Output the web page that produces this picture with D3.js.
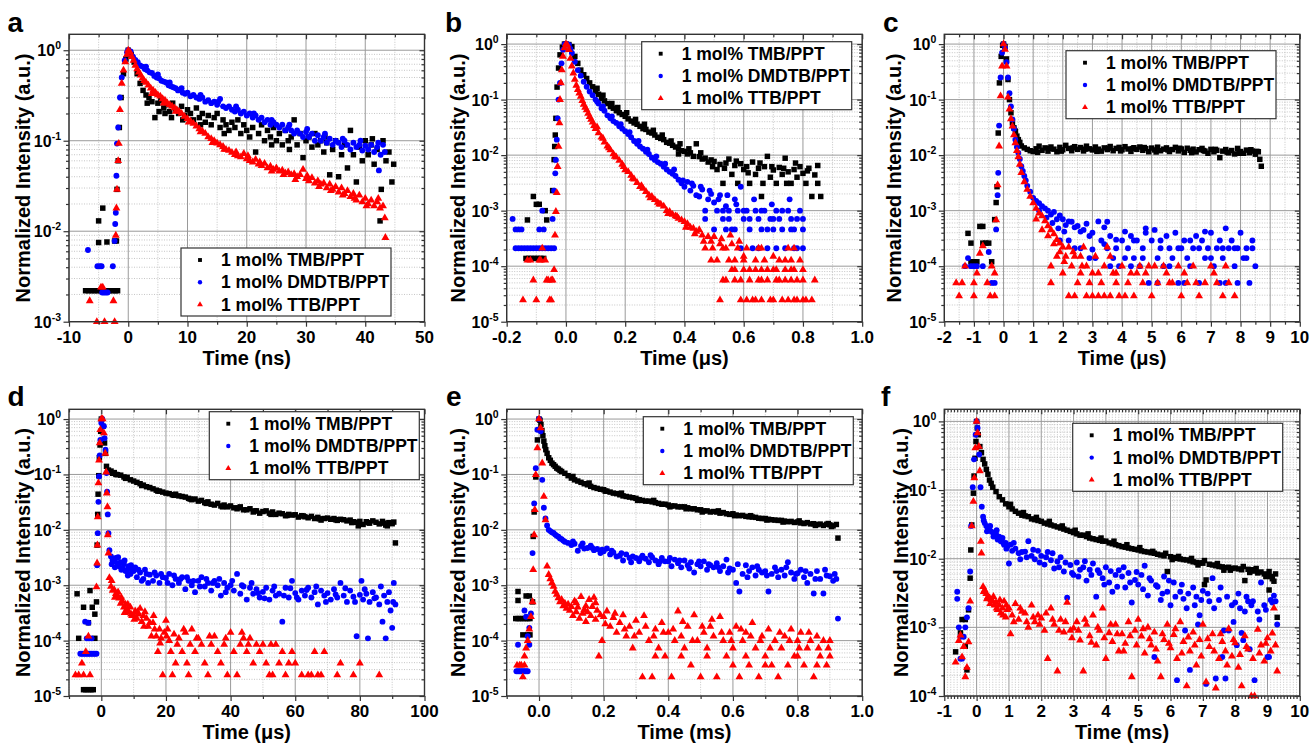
<!DOCTYPE html>
<html>
<head>
<meta charset="utf-8">
<script src="https://cdn.jsdelivr.net/npm/d3@7"></script>
<style>
body { margin: 0; background: #fff; }
svg text { font-family: 'Liberation Sans', Arial, sans-serif; font-weight: bold; fill: #000; }
</style>
</head>
<body>
<div id="chart"></div>
<script>
const seriesNames = ['1 mol% TMB/PPT', '1 mol% DMDTB/PPT', '1 mol% TTB/PPT'];
const seriesColors = ['#000000', '#0000ff', '#ff0000'];

// ---- panel a (ns) ----
const aTMB = [
  [-7.2,0.0022],[-6.7,0.0022],[-6.2,0.0022],[-5.7,0.0022],[-5.2,0.0022],[-4.7,0.0022],[-4.2,0.0022],[-3.7,0.0022],[-3.2,0.0022],[-2.7,0.0022],[-2.2,0.0022],[-1.8,0.0022],
  [-5.0,0.0075],[-3.6,0.0076],[-5.0,0.013],[-4.3,0.018],[-2.3,0.0078],[-2.0,0.0078],[-1.9,0.029],[-1.7,0.06],[-1.5,0.14],[-1.2,0.3],[-0.8,0.55],[-0.4,0.8],[0,1.0],
  [0.5,0.9],[1,0.74],[1.5,0.55],[2,0.43],[2.5,0.36],[3,0.32],[3.5,0.3],[4,0.27],[4.5,0.18],[5,0.26],[5.5,0.28],[6,0.23],[6.5,0.25],[7,0.21],[7.5,0.26],[8,0.22],[8.5,0.2],[9,0.24],[9.5,0.19],[10,0.22],
  [10.5,0.2],[11,0.17],[11.5,0.23],[12,0.18],[12.5,0.2],[13,0.16],[13.5,0.19],[14,0.15],[14.5,0.18],[15,0.2],[15.5,0.14],[16,0.17],[16.5,0.15],[17,0.13],[17.5,0.16],[18,0.14],[18.5,0.17],[19,0.12],[19.5,0.15],[20,0.13],
  [20.5,0.11],[21,0.14],[21.5,0.075],[22,0.12],[22.5,0.15],[23,0.1],[23.5,0.13],[24,0.11],[24.5,0.14],[25,0.1],[25.5,0.12],[26,0.09],[26.5,0.13],[27,0.1],[27.5,0.11],[28,0.17],[28.5,0.09],[29,0.12],[29.5,0.065],[30,0.1],
  [30.5,0.11],[31,0.085],[31.5,0.12],[32,0.09],[32.5,0.1],[33,0.075],[33.5,0.095],[34,0.042],[34.5,0.08],[35,0.1],[35.5,0.04],[36,0.07],[36.5,0.09],[37,0.05],[37.5,0.13],[38,0.07],[38.5,0.035],[39,0.085],[39.5,0.06],[40,0.1],
  [40.5,0.07],[41,0.09],[41.5,0.055],[42,0.08],[42.5,0.013],[42.7,0.029],[43,0.1],[43.5,0.06],[44,0.075],[44.5,0.035],[44.8,0.055],
  [3.2,0.26],[5.2,0.21],[6.2,0.2],[7.3,0.18],[9.2,0.17],[12.2,0.15],[16.2,0.12],[24.2,0.09],[27.2,0.08],[33.2,0.11],[41.2,0.105]
];
const aDMDTB = [
  [-6.8,0.0062],[-5.2,0.0041],[-4.8,0.0041],[-4.5,0.0041],[-4.4,0.0021],[-4.1,0.0021],[-3.8,0.0021],[-3.5,0.0021],[-2.6,0.0041],[-2.3,0.0078],[-2.2,0.012],[-2.1,0.016],[-2.0,0.041],[-1.9,0.093],[-1.7,0.14],[-1.4,0.3],[-1.1,0.5],[-0.6,0.77],[-0.2,0.95],[0,1.0],
  [0.4,0.97],[0.8,0.85],[1.2,0.78],[1.6,0.74],[2.0,0.68],[2.4,0.66],[2.8,0.62],[3.2,0.6],[3.6,0.57],[4.0,0.56],[4.4,0.52],[4.8,0.5],[5.2,0.49],[5.6,0.46],[6.0,0.45],[6.4,0.44],[6.8,0.41],[7.2,0.4],[7.6,0.39],[8.0,0.38],
  [8.4,0.36],[8.8,0.37],[9.2,0.34],[9.6,0.33],[10,0.34],[10.5,0.31],[11,0.32],[11.5,0.3],[12,0.29],[12.5,0.3],[13,0.27],[13.5,0.28],[14,0.26],[14.5,0.27],[15,0.25],[15.5,0.29],[16,0.24],[16.5,0.23],[17,0.24],[17.5,0.22],
  [18,0.21],[18.5,0.22],[19,0.2],[19.5,0.21],[20,0.19],[20.5,0.2],[21,0.18],[21.5,0.19],[22,0.17],[22.5,0.18],[23,0.16],[23.5,0.17],[24,0.15],[24.5,0.16],[25,0.15],[25.5,0.14],[26,0.15],[26.5,0.13],[27,0.14],[27.5,0.13],
  [28,0.12],[28.5,0.13],[29,0.12],[29.5,0.11],[30,0.125],[30.5,0.11],[31,0.12],[31.5,0.1],[32,0.115],[32.5,0.1],[33,0.11],[33.5,0.095],[34,0.105],[34.5,0.09],[35,0.1],[35.5,0.095],[36,0.085],[36.5,0.1],[37,0.09],[37.5,0.08],
  [38,0.095],[38.5,0.085],[39,0.09],[39.5,0.078],[40,0.088],[40.5,0.08],[41,0.09],[41.5,0.075],[42,0.085],[42.3,0.047],[42.6,0.07],[43,0.09],[43.3,0.075],
  [3.0,0.66],[5.0,0.54],[7.0,0.44],[9.0,0.38],[12.2,0.32],[15.2,0.27],[18.2,0.24],[21.2,0.2],[24.2,0.17],[27.2,0.15],[30.2,0.135],[33.2,0.12],[36.2,0.105],[39.2,0.1],[42.2,0.095]
];
const aTTB = [
  [-6.5,0.0017],[-5.3,0.001],[-4.6,0.0024],[-4.3,0.0024],[-4.0,0.001],[-2.5,0.0017],[-2.3,0.001],[-2.1,0.009],[-2.0,0.018],[-1.9,0.029],[-1.7,0.06],[-1.6,0.093],[-1.4,0.22],[-1.1,0.43],[-0.8,0.6],[-0.5,0.74],[-0.2,0.9],[0,1.0],
  [0.3,0.95],[0.6,0.85],[0.9,0.77],[1.2,0.68],[1.5,0.62],[1.8,0.57],[2.1,0.53],[2.4,0.49],[2.7,0.46],[3.0,0.44],[3.4,0.41],[3.8,0.38],[4.2,0.36],[4.6,0.34],[5.0,0.32],[5.4,0.31],[5.8,0.29],[6.2,0.28],[6.6,0.26],[7.0,0.25],
  [7.4,0.24],[7.8,0.23],[8.2,0.22],[8.6,0.21],[9.0,0.2],[9.5,0.185],[10,0.175],[10.5,0.165],[11,0.155],[11.5,0.145],[12,0.135],[12.5,0.128],[13,0.12],[13.5,0.11],[14,0.105],[14.5,0.1],[15,0.094],[15.5,0.09],[16,0.086],[16.5,0.08],
  [17,0.078],[17.5,0.074],[18,0.07],[18.5,0.068],[19,0.066],[19.5,0.072],[20,0.063],[20.5,0.06],[21,0.058],[21.5,0.062],[22,0.055],[22.5,0.053],[23,0.056],[23.5,0.05],[24,0.052],[24.5,0.048],[25,0.05],[25.5,0.046],[26,0.047],[26.5,0.044],
  [27,0.045],[27.5,0.042],[28,0.043],[28.5,0.04],[29,0.042],[29.5,0.048],[30,0.038],[30.5,0.036],[31,0.039],[31.5,0.034],[32,0.036],[32.5,0.033],[33,0.034],[33.5,0.03],[34,0.033],[34.5,0.029],[35,0.031],[35.5,0.027],[36,0.03],[36.5,0.026],
  [37,0.028],[37.5,0.024],[38,0.026],[38.5,0.022],[39,0.025],[39.5,0.021],[40,0.023],[40.5,0.02],[41,0.022],[41.5,0.019],[42,0.021],[42.5,0.018],[43,0.019],[43.3,0.014],[43.4,0.0085],
  [4.0,0.33],[6.0,0.26],[8.0,0.21],[10.2,0.16],[12.2,0.125],[14.2,0.095],[16.2,0.08],[18.2,0.075],[20.2,0.068],[22.2,0.058],[24.2,0.046],[26.2,0.042],[28.2,0.037],[30.2,0.041],[32.2,0.031],[34.2,0.028],[36.2,0.025],[38.2,0.023],[40.2,0.019],[42.2,0.023]
];

// ---- panel b (us) ----
const bTMB = [
  [-0.135,0.000138],[-0.125,0.000138],[-0.115,0.000138],[-0.105,0.000138],[-0.095,0.000138],[-0.085,0.000138],[-0.075,0.000138],[-0.13,0.00068],[-0.11,0.0018],[-0.1,0.0013],[-0.09,0.0013],[-0.07,0.001],[-0.065,0.00068],
  [-0.045,0.0023],[-0.04,0.0083],[-0.038,0.0143],[-0.036,0.023],[-0.034,0.046],[-0.03,0.168],[-0.025,0.37],[-0.02,0.64],[-0.012,0.88],[-0.005,1.0],[0,1.0],
  [0.01,0.98],[0.02,0.9],[0.03,0.6],[0.04,0.45],[0.05,0.34],[0.06,0.28],[0.07,0.24],[0.08,0.2],[0.09,0.17],[0.1,0.14],[0.11,0.125],[0.12,0.105],[0.13,0.095],[0.14,0.085],[0.15,0.075],[0.16,0.07],[0.17,0.063],[0.18,0.058],[0.19,0.054],[0.2,0.05],
  [0.21,0.045],[0.22,0.041],[0.23,0.038],[0.24,0.036],[0.25,0.033],[0.26,0.03],[0.27,0.029],[0.28,0.026],[0.29,0.025],[0.3,0.023],[0.31,0.021],[0.32,0.02],[0.33,0.019],[0.34,0.017],[0.35,0.0164],[0.36,0.015],[0.37,0.014],[0.38,0.013],[0.39,0.012],[0.4,0.0117],
  [0.41,0.0105],[0.42,0.011],[0.43,0.0095],[0.44,0.016],[0.45,0.0094],[0.46,0.0085],[0.47,0.0088],[0.48,0.0075],[0.49,0.0082],[0.5,0.0077],[0.51,0.0055],[0.52,0.0068],[0.53,0.0031],[0.54,0.0072],[0.55,0.0085],[0.56,0.0045],[0.57,0.0065],[0.58,0.0031],[0.59,0.007],[0.6,0.0055],
  [0.61,0.0062],[0.62,0.0031],[0.63,0.0075],[0.64,0.0045],[0.65,0.0058],[0.66,0.0018],[0.67,0.0062],[0.68,0.0095],[0.69,0.004],[0.7,0.0054],[0.71,0.0031],[0.72,0.006],[0.73,0.0045],[0.74,0.0088],[0.75,0.005],[0.76,0.0031],[0.77,0.0055],[0.78,0.004],[0.79,0.0062],[0.8,0.0047],
  [0.81,0.0031],[0.82,0.0058],[0.83,0.0018],[0.84,0.0044],[0.85,0.0031],[0.85,0.0065],[0.86,0.0018],
  [0.105,0.16],[0.125,0.12],[0.155,0.085],[0.175,0.072],[0.205,0.058],[0.235,0.044],[0.265,0.036],[0.295,0.028],[0.325,0.023],[0.355,0.018],[0.385,0.016],[0.415,0.013],[0.38,0.0105],[0.455,0.011],[0.495,0.0062],[0.535,0.0058],[0.575,0.0078],[0.615,0.0048],[0.655,0.0072],[0.695,0.0062],[0.735,0.0058],[0.775,0.0072],[0.815,0.0052],[0.745,0.0031],[0.665,0.0031]
];
const bDMDTB = [
  [-0.18,0.00071],[-0.17,0.00046],[-0.16,0.00046],[-0.15,0.00046],[-0.17,0.00021],[-0.16,0.00021],[-0.15,0.00021],[-0.14,0.00021],[-0.13,0.00021],[-0.12,0.00021],[-0.11,0.00021],[-0.1,0.00021],[-0.09,0.00021],[-0.08,0.00021],
  [-0.07,0.00021],[-0.06,0.00021],[-0.05,0.00021],[-0.04,0.00021],[-0.09,0.00046],[-0.075,0.00046],[-0.08,0.001],[-0.045,0.00071],[-0.04,0.0023],[-0.036,0.0047],[-0.034,0.0082],[-0.031,0.019],[-0.028,0.046],[-0.025,0.1],[-0.02,0.2],[-0.015,0.45],[-0.01,0.79],[-0.004,1.0],
  [0.005,1.0],[0.01,0.97],[0.015,0.82],[0.02,0.69],[0.03,0.48],[0.04,0.34],[0.05,0.27],[0.06,0.21],[0.07,0.17],[0.08,0.14],[0.09,0.12],[0.1,0.1],[0.11,0.085],[0.12,0.07],[0.13,0.063],[0.14,0.052],[0.15,0.046],[0.16,0.041],[0.17,0.038],[0.18,0.033],
  [0.19,0.03],[0.2,0.027],[0.21,0.024],[0.22,0.021],[0.23,0.018],[0.24,0.016],[0.25,0.0143],[0.26,0.013],[0.27,0.0115],[0.28,0.0105],[0.29,0.009],[0.3,0.0082],[0.31,0.0075],[0.32,0.007],[0.33,0.0062],[0.34,0.0055],[0.35,0.005],[0.36,0.0046],[0.37,0.0042],[0.38,0.0036],
  [0.39,0.0031],[0.4,0.0027],[0.41,0.0033],[0.42,0.0023],[0.43,0.0028],[0.44,0.0019],[0.45,0.0018],[0.46,0.0024],[0.47,0.001],[0.48,0.0016],[0.49,0.002],[0.5,0.0014],[0.51,0.001],[0.52,0.0019],[0.53,0.00071],[0.54,0.0012],[0.55,0.001],[0.56,0.00046],[0.57,0.0016],[0.58,0.001],
  [0.59,0.0027],[0.6,0.00071],[0.61,0.001],[0.62,0.00046],[0.63,0.00021],[0.64,0.001],[0.65,0.00071],[0.66,0.00046],[0.67,0.001],[0.68,0.00021],[0.69,0.00071],[0.7,0.00046],[0.71,0.001],[0.72,0.00071],[0.73,0.00046],[0.74,0.00021],[0.75,0.001],[0.76,0.00071],[0.77,0.00046],[0.78,0.00021],
  [0.79,0.001],[0.8,0.00046],
  [0.47,0.00071],[0.5,0.00046],[0.53,0.001],[0.55,0.00071],[0.57,0.00046],[0.6,0.001],[0.62,0.00071],[0.66,0.001],[0.68,0.00046],[0.7,0.00071],[0.73,0.001],[0.76,0.00046],[0.78,0.00071],[0.8,0.00071],[0.59,0.00021],[0.65,0.00021],[0.71,0.00021],[0.77,0.00021],[0.8,0.00021],[0.54,0.00046],
  [0.105,0.092],[0.125,0.075],[0.155,0.05],[0.185,0.036],[0.215,0.026],[0.245,0.018],[0.275,0.0125],[0.305,0.0095],[0.335,0.007],[0.365,0.0055],[0.395,0.0035],[0.425,0.0031],[0.455,0.0027],[0.485,0.0023],[0.515,0.0016],[0.545,0.0019],[0.575,0.0013],[0.635,0.0016],[0.695,0.0013],[0.755,0.0016]
];
const bTTB = [
  [-0.145,0.0000245],[-0.13,0.000128],[-0.12,0.000128],[-0.11,0.000056],[-0.1,0.0000245],[-0.09,0.000128],[-0.085,0.000128],[-0.08,0.00021],[-0.07,0.000128],[-0.065,0.000056],[-0.06,0.000056],[-0.055,0.0000245],[-0.05,0.0000245],[-0.05,0.000056],
  [-0.045,0.000056],[-0.04,0.000086],[-0.037,0.00036],[-0.034,0.00096],[-0.031,0.0021],[-0.028,0.0062],[-0.025,0.0143],[-0.022,0.038],[-0.02,0.1],[-0.017,0.2],[-0.014,0.34],[-0.01,0.6],[-0.005,0.85],[0,1.0],
  [0.005,0.95],[0.01,0.79],[0.015,0.55],[0.02,0.4],[0.025,0.3],[0.03,0.23],[0.035,0.18],[0.04,0.15],[0.045,0.13],[0.05,0.114],[0.055,0.095],[0.06,0.082],[0.065,0.072],[0.07,0.065],[0.075,0.056],[0.08,0.049],[0.085,0.044],[0.09,0.039],[0.095,0.034],[0.1,0.03],
  [0.11,0.025],[0.12,0.021],[0.13,0.017],[0.14,0.0145],[0.15,0.0124],[0.16,0.0105],[0.17,0.0092],[0.18,0.008],[0.19,0.0068],[0.2,0.0054],[0.21,0.005],[0.22,0.0043],[0.23,0.0037],[0.24,0.0032],[0.25,0.0027],[0.26,0.0025],[0.27,0.0022],[0.28,0.0019],[0.29,0.0018],[0.3,0.00157],
  [0.31,0.0014],[0.32,0.0013],[0.33,0.0012],[0.34,0.001],[0.35,0.00096],[0.36,0.00085],[0.37,0.0008],[0.38,0.00072],[0.39,0.00068],[0.4,0.00063],[0.41,0.00058],[0.42,0.0005],[0.43,0.00048],[0.44,0.00042],[0.45,0.00045],[0.46,0.00036],[0.47,0.00021],[0.48,0.00034],[0.49,0.00028],[0.5,0.00034],
  [0.51,0.000128],[0.52,0.00025],[0.53,0.000056],[0.54,0.00021],[0.55,0.000128],[0.56,0.00025],[0.57,0.000086],[0.58,0.00021],[0.59,0.000056],[0.6,0.00015],[0.61,0.00021],[0.62,0.000086],[0.63,0.0000245],[0.64,0.000128],[0.65,0.00021],[0.66,0.000056],[0.67,0.000128],[0.68,0.000086],[0.69,0.0000245],[0.7,0.00015],
  [0.71,0.000086],[0.72,0.000056],[0.73,0.0000245],[0.74,0.000128],[0.75,0.00021],[0.76,0.000086],[0.77,0.0000245],[0.78,0.000056],[0.79,0.000128],[0.8,0.000086],[0.81,0.0000245],[0.83,0.0000245],[0.84,0.000056],
  [0.52,0.0000245],[0.59,0.0000245],[0.61,0.0000245],[0.64,0.0000245],[0.66,0.0000245],[0.7,0.0000245],[0.75,0.0000245],[0.78,0.0000245],[0.8,0.0000245],[0.56,0.000086],[0.6,0.000086],[0.64,0.000086],[0.66,0.000086],[0.7,0.000086],[0.74,0.000086],[0.77,0.000086],
  [0.54,0.000056],[0.57,0.000056],[0.62,0.000056],[0.65,0.000056],[0.68,0.000056],[0.71,0.000056],[0.74,0.000056],[0.76,0.000056],[0.8,0.000056],[0.49,0.000128],[0.53,0.00021],[0.57,0.000128],[0.6,0.000128],[0.66,0.00021],[0.72,0.000128],[0.76,0.000128],[0.77,0.00021],
  [0.105,0.032],[0.125,0.02],[0.145,0.0135],[0.165,0.0095],[0.195,0.0062],[0.225,0.0038],[0.255,0.0028],[0.285,0.0017],[0.315,0.0013],[0.345,0.00088],[0.375,0.00078],[0.405,0.0005],[0.435,0.00038],[0.465,0.00028],[0.495,0.00021],[0.525,0.00031],[0.555,0.00036],[0.585,0.00028]
];

// ---- panel c (us) ----
const cTMB = [
  [-1.2,0.00039],[-1.1,0.00026],[-1.1,0.00012],[-1.0,0.00012],[-0.9,0.00012],[-0.8,0.00052],[-0.7,0.00052],[-0.7,0.00026],[-0.6,0.00026],[-0.5,0.00026],[-0.4,0.00012],[-0.3,0.00069],[-0.25,0.0014],[-0.22,0.0027],[-0.18,0.025],[-0.14,0.2],[-0.08,0.6],[-0.03,0.95],[0,1.0],
  [0.05,0.9],[0.1,0.54],[0.15,0.23],[0.2,0.1],[0.25,0.058],[0.3,0.038],[0.35,0.031],[0.4,0.027],[0.45,0.022],[0.5,0.019],[0.55,0.017],[0.6,0.0146],[0.7,0.0135],[0.8,0.0127],[0.9,0.012],[1.0,0.0116],
  [1.1,0.013],[1.2,0.0145],[1.3,0.0122],[1.4,0.0135],[1.5,0.0118],[1.6,0.014],[1.7,0.0128],[1.8,0.0115],[1.9,0.0138],[2.0,0.0125],[2.1,0.015],[2.2,0.0132],[2.3,0.012],[2.4,0.0142],[2.5,0.0127],[2.6,0.0137],[2.7,0.0119],[2.8,0.0145],[2.9,0.013],[3.0,0.0124],
  [3.1,0.014],[3.2,0.0128],[3.3,0.0118],[3.4,0.0135],[3.5,0.0126],[3.6,0.0143],[3.7,0.012],[3.8,0.0132],[3.9,0.0138],[4.0,0.0125],[4.1,0.0142],[4.2,0.0129],[4.3,0.0117],[4.4,0.0136],[4.5,0.0127],[4.6,0.014],[4.7,0.0122],[4.8,0.0131],[4.9,0.0115],[5.0,0.0134],
  [5.1,0.0124],[5.2,0.0139],[5.3,0.012],[5.4,0.0128],[5.5,0.0135],[5.6,0.0116],[5.7,0.0126],[5.8,0.0138],[5.9,0.0119],[6.0,0.0129],[6.1,0.0112],[6.2,0.0133],[6.3,0.0122],[6.4,0.0128],[6.5,0.0114],[6.6,0.0125],[6.7,0.0132],[6.8,0.0118],[6.9,0.0108],[7.0,0.0127],
  [7.1,0.0115],[7.2,0.0122],[7.3,0.009],[7.4,0.0118],[7.5,0.0126],[7.6,0.011],[7.7,0.0121],[7.8,0.0105],[7.9,0.0132],[8.0,0.0116],[8.1,0.0108],[8.2,0.0123],[8.3,0.0111],[8.4,0.0118],[8.5,0.0104],[8.6,0.0115],[8.65,0.0084],[8.7,0.0063],
  [1.15,0.0112],[1.55,0.0132],[1.95,0.0118],[2.35,0.0135],[2.75,0.0128],[3.15,0.0117],[3.55,0.0134],[3.95,0.0119],[4.35,0.0131],[4.75,0.0137],[5.15,0.0114],[5.55,0.0124],[5.95,0.0133],[6.35,0.0111],[6.75,0.0121],[7.15,0.0127],[7.55,0.0113],[7.95,0.0108],[8.35,0.0125],[8.55,0.0117]
];
const cDMDTB = [
  [-1.3,0.0001],[-1.2,0.00014],[-1.1,0.0001],[-1.0,0.0001],[-0.9,0.0001],[-0.7,0.0001],[-0.5,0.00018],[-0.4,0.00005],[-0.3,0.00005],[-0.25,0.00046],[-0.2,0.0019],[-0.18,0.0048],[-0.15,0.034],[-0.1,0.25],[-0.05,0.7],[0,1.0],
  [0.05,0.85],[0.1,0.47],[0.15,0.25],[0.2,0.13],[0.25,0.075],[0.3,0.044],[0.35,0.03],[0.4,0.019],[0.45,0.014],[0.5,0.011],[0.55,0.0085],[0.6,0.0063],[0.65,0.0052],[0.7,0.0042],[0.75,0.0035],[0.8,0.0028],[0.9,0.0022],[1.0,0.0017],[1.1,0.0015],[1.2,0.00137],
  [1.3,0.0012],[1.4,0.0011],[1.5,0.001],[1.6,0.00085],[1.7,0.00095],[1.8,0.0007],[1.9,0.00082],[2.0,0.0007],[2.1,0.00055],[2.2,0.00029],[2.3,0.00063],[2.4,0.0005],[2.5,0.00053],[2.6,0.00021],[2.7,0.00045],[2.8,0.00058],[2.9,0.00035],[3.0,0.0004],[3.1,0.00014],[3.2,0.00064],
  [3.3,0.00029],[3.4,0.0005],[3.5,0.00021],[3.6,0.00035],[3.7,0.00014],[3.8,0.0003],[3.9,0.0001],[4.0,0.00029],[4.1,0.00042],[4.2,0.00021],[4.3,0.00035],[4.4,0.00014],[4.5,0.00029],[4.6,0.0001],[4.7,0.00021],[4.8,0.0004],[4.9,0.00005],[5.0,0.00029],[5.1,0.00045],[5.2,0.00014],
  [5.3,0.00021],[5.4,0.0001],[5.5,0.00035],[5.6,0.00021],[5.7,0.00014],[5.8,0.0004],[5.9,0.00005],[6.0,0.00021],[6.1,0.00029],[6.2,0.00014],[6.3,0.0001],[6.4,0.00021],[6.5,0.00035],[6.6,0.00005],[6.7,0.00029],[6.8,0.00014],[6.9,0.00021],[7.0,0.0004],[7.1,0.0001],[7.2,0.00021],
  [7.3,0.00029],[7.4,0.00014],[7.5,0.00005],[7.6,0.00021],[7.7,0.00029],[7.8,0.0001],[7.9,0.00021],[8.0,0.0004],[8.1,0.00014],[8.2,0.00021],[8.3,0.00005],[8.4,0.00029],[8.5,0.0001],
  [2.2,0.00064],[2.6,0.00042],[3.0,0.0002],[3.4,0.00025],[3.8,0.00021],[4.1,0.00014],[4.4,0.00029],[4.7,0.00014],[5.3,0.00029],[5.6,0.0001],[5.9,0.00021],[6.3,0.00029],[6.6,0.00021],[7.0,0.00014],[7.4,0.00021],[7.8,0.00021],[8.2,0.00014],[8.4,0.00021],
  [3.5,0.00063],[4.8,0.00048],[6.8,0.00042],[7.5,0.00048],[1.9,0.00029],[2.4,0.00021],[2.9,0.00014],[3.6,0.0001],[4.3,0.0001],[5.2,0.00005],[6.1,0.00005],[7.3,0.00005],[7.9,0.00005],[1.2,0.001],[1.45,0.00075],[1.65,0.0006],[1.85,0.00048],[2.05,0.00042]
];
const cTTB = [
  [-1.6,0.00005],[-1.5,0.000029],[-1.4,0.00005],[-1.3,0.0001],[-1.0,0.000029],[-1.0,0.00005],[-0.9,0.000075],[-0.8,0.00017],[-0.7,0.00023],[-0.55,0.00005],[-0.45,0.000029],[-0.4,0.0001],[-0.3,0.000029],[-0.3,0.000075],
  [-0.25,0.00068],[-0.2,0.0029],[-0.15,0.0145],[-0.1,0.116],[-0.05,0.4],[0,1.0],
  [0.05,0.8],[0.1,0.4],[0.15,0.11],[0.2,0.067],[0.25,0.045],[0.3,0.033],[0.35,0.023],[0.4,0.0166],[0.45,0.012],[0.5,0.0093],[0.55,0.0068],[0.6,0.0048],[0.7,0.0033],[0.8,0.0024],[0.9,0.0018],[1.0,0.00137],[1.1,0.0011],[1.2,0.0009],[1.3,0.0008],[1.4,0.00065],
  [1.5,0.00053],[1.6,0.00045],[1.7,0.00038],[1.8,0.0003],[1.9,0.00026],[2.0,0.00022],[2.1,0.00015],[2.2,0.00022],[2.3,0.0001],[2.4,0.00015],[2.5,0.00005],[2.6,0.000075],[2.7,0.00022],[2.8,0.0001],[2.9,0.00005],[3.0,0.000029],[3.1,0.00015],[3.2,0.000075],[3.3,0.00005],[3.4,0.0001],
  [3.5,0.00022],[3.6,0.000029],[3.7,0.000075],[3.8,0.00005],[3.9,0.000029],[4.0,0.0001],[4.2,0.00005],[4.4,0.000029],[4.5,0.000075],[4.7,0.00005],[4.9,0.0001],[5.0,0.000029],[5.2,0.00005],[5.4,0.0001],[5.5,0.000075],[5.7,0.00005],[5.9,0.0001],[6.0,0.000029],[6.2,0.00005],[6.4,0.0001],
  [6.6,0.000029],[6.8,0.00005],[7.0,0.0001],[7.2,0.00005],[7.4,0.000029],[7.6,0.00005],[7.8,0.000029],
  [1.6,0.0001],[1.6,0.00005],[1.8,0.00015],[2.0,0.000075],[2.2,0.000029],[2.4,0.000029],[2.6,0.00015],[2.8,0.000029],[3.0,0.000075],[3.2,0.000029],[3.4,0.000029],[3.6,0.00015],[3.8,0.000075],[4.1,0.000029],[4.3,0.000075],[4.6,0.0001],[4.8,0.000075],[5.1,0.0001],[5.6,0.00005],[6.1,0.000075],
  [6.5,0.00005],[7.1,0.000075],[7.5,0.0001],[1.1,0.0007],[1.3,0.00045],[1.5,0.00035],[1.7,0.00025],[1.9,0.00018],[2.05,0.00012],[2.35,0.00018],[2.65,0.0001]
];

// ---- panel d (us) ----
const dTMB = [
  [-7.5,0.0007],[-7,0.00011],[-5.5,0.0004],[-4,0.00021],[-3.5,0.0008],[-2.8,0.0004],[-2,0.0003],[-2,0.00011],[-5.5,0.000013],[-4.8,0.000013],[-4,0.000013],[-3.2,0.000013],[-2.5,0.000013],
  [-1.5,0.0005],[-1.3,0.0053],[-1.1,0.019],[-1,0.044],[-0.8,0.095],[-0.6,0.2],[-0.4,0.34],[-0.2,0.6],[0,1.0],
  [0.5,0.74],[1,0.37],[1.3,0.24],[1.6,0.14],[2,0.113],[2.5,0.11],[3,0.115],[3.5,0.105],[4,0.108],[5,0.099],[6,0.097],[7,0.09],[8,0.088],[9,0.08],[10,0.076],[11,0.072],[12,0.068],[13,0.064],[14,0.06],[15,0.058],
  [16,0.055],[17,0.052],[18,0.05],[19,0.048],[20,0.046],[21,0.045],[22,0.043],[23,0.044],[24,0.041],[25,0.04],[26,0.039],[27,0.037],[28,0.035],[29,0.036],[30,0.033],[31,0.034],[32,0.031],[33,0.032],[34,0.029],[35,0.028],
  [36,0.03],[37,0.027],[38,0.028],[39,0.026],[40,0.027],[41,0.025],[42,0.024],[43,0.026],[44,0.023],[45,0.023],[46,0.024],[47,0.021],[48,0.022],[49,0.02],[50,0.0214],[51,0.022],[52,0.02],[53,0.021],[54,0.019],[55,0.02],
  [56,0.0195],[57,0.018],[58,0.019],[59,0.0185],[60,0.0187],[61,0.017],[62,0.018],[63,0.0172],[64,0.0165],[65,0.0175],[66,0.016],[67,0.0168],[68,0.015],[69,0.016],[70,0.0163],[71,0.0155],[72,0.016],[73,0.0148],[74,0.0155],[75,0.0152],
  [76,0.0145],[77,0.015],[78,0.014],[79,0.0137],[80,0.0142],[81,0.0125],[82,0.014],[83,0.0132],[84,0.0145],[85,0.0137],[86,0.0128],[87,0.0142],[88,0.0122],[89,0.0135],[90,0.0129],[90.5,0.0138],[91,0.0058],
  [2.2,0.12],[4.5,0.1],[7.5,0.085],[12.5,0.063],[17.5,0.05],[22.5,0.042],[27.5,0.036],[32.5,0.03],[37.5,0.026],[42.5,0.025],[47.5,0.022],[52.5,0.019],[57.5,0.0182],[62.5,0.0178],[67.5,0.0158],[72.5,0.0152],[77.5,0.0135],[82.5,0.0135],[87.5,0.0132],[79.5,0.0118],[88.5,0.0118]
];
const dDMDTB = [
  [-6.5,0.000058],[-6,0.000058],[-5.5,0.000058],[-5,0.000058],[-4.5,0.000058],[-4,0.000058],[-3.5,0.000058],[-3,0.000058],[-2.5,0.000058],[-2,0.000058],[-1.5,0.000058],[-4.5,0.00011],[-3.8,0.00011],[-3,0.00011],[-4,0.00021],[-5,0.00022],
  [-1.3,0.0023],[-1.1,0.0087],[-0.9,0.032],[-0.7,0.092],[-0.5,0.22],[-0.3,0.42],[0,0.85],[0.3,1.0],[0.8,0.74],[1,0.45],[1.3,0.28],[1.6,0.106],[1.8,0.049],[2,0.019],[2.2,0.0087],[2.5,0.0043],
  [3,0.0033],[3.5,0.0028],[4,0.0027],[4.5,0.0031],[5,0.0025],[5.5,0.0022],[6,0.0026],[6.5,0.002],[7,0.0024],[7.5,0.0018],[8,0.0019],[8.5,0.0022],[9,0.0016],[9.5,0.0019],[10,0.0018],[11,0.0014],[12,0.0017],[13,0.0013],[14,0.0016],[15,0.00155],
  [16,0.0012],[17,0.0015],[18,0.0011],[19,0.0014],[20,0.00135],[21,0.0016],[22,0.001],[23,0.0013],[24,0.0011],[25,0.0014],[26,0.00085],[27,0.0012],[28,0.001],[29,0.00075],[30,0.0012],[31,0.0014],[32,0.00095],[33,0.0011],[34,0.0008],[35,0.0012],
  [36,0.001],[37,0.00065],[38,0.0011],[39,0.0009],[40,0.001],[41,0.0008],[42,0.0016],[43,0.0007],[44,0.00095],[45,0.00055],[46,0.0009],[47,0.0007],[48,0.00085],[49,0.0006],[50,0.00076],[51,0.0009],[52,0.00055],[53,0.0008],[54,0.00065],[55,0.0007],
  [56,0.00022],[57,0.0009],[58,0.0006],[59,0.0012],[60,0.00072],[61,0.00055],[62,0.0008],[63,0.00065],[64,0.0009],[65,0.0006],[66,0.00075],[67,0.00045],[68,0.0008],[69,0.00065],[70,0.00072],[71,0.00055],[72,0.00085],[73,0.0006],[74,0.0011],[75,0.00065],
  [76,0.0005],[77,0.0008],[78,0.00062],[79,0.00012],[80,0.00067],[80.5,0.0012],[81,0.00055],[82,0.0007],[82.5,0.00011],[83,0.0005],[84,0.00075],[85,0.0006],[86,0.00045],[87,0.00022],[87.5,0.00065],[88,0.00011],[88.5,0.0005],[89,0.00075],[89.5,0.00035],[90,0.00017],
  [90.3,0.0005],[90.5,0.0011],[91,0.00045],
  [3.2,0.0024],[4.2,0.0021],[5.2,0.0032],[6.2,0.0019],[7.2,0.0028],[8.2,0.0015],[9.2,0.0023],[10.5,0.0021],[11.5,0.0019],[12.5,0.0012],[13.5,0.0019],[14.5,0.0011],[16.5,0.0017],[18.5,0.0016],[20.5,0.0011],[22.5,0.0015],[24.5,0.0013],[26.5,0.0014],[28.5,0.0012],[30.5,0.00095],
  [32.5,0.0013],[34.5,0.0011],[36.5,0.0013],[38.5,0.00075],[40.5,0.0012],[43.5,0.001],[46.5,0.0011],[48.5,0.00072],[50.5,0.00058],[53.5,0.00095],[56.5,0.00065],[58.5,0.00088],[60.5,0.0006],[63.5,0.00082],[66.5,0.00095],[69.5,0.0005],[72.5,0.00068],[75.5,0.00088],[78.5,0.0005],[81.5,0.00085],
  [84.5,0.00058],[86.5,0.00095]
];
const dTTB = [
  [-8,0.000024],[-7,0.000024],[-5.5,0.000024],[-3.5,0.000024],[-6,0.000039],[-4.8,0.000063],[-4,0.00012],[-1.5,0.00093],[-1.3,0.0025],[-1.2,0.0053],[-1.1,0.017],[-0.9,0.07],[-0.7,0.18],[-0.5,0.37],[-0.3,0.64],[0,1.0],[0.4,1.0],
  [0.8,0.56],[1.2,0.24],[1.5,0.11],[1.7,0.046],[1.9,0.026],[2,0.0081],[2.2,0.0038],
  [2.5,0.00136],[3,0.00095],[3.5,0.0008],[4,0.00083],[4.5,0.0007],[5,0.00063],[5.5,0.00058],[6,0.00047],[6.5,0.00052],[7,0.0004],[7.5,0.00045],[8,0.00036],[8.5,0.00033],[9,0.0004],[9.5,0.00028],[10,0.00029],[10.5,0.00034],[11,0.00025],[11.5,0.0003],[12,0.00038],
  [12.5,0.00022],[13,0.00028],[13.5,0.00033],[14,0.00025],[14.5,0.00018],[15,0.00021],[15.5,0.00012],[16,0.00021],[16.5,0.00016],[17,0.00012],[17.5,0.000063],[18,0.00016],[18.5,0.00011],[19,0.000024],[19.5,0.00014],[20,0.00023],[20.5,0.00016],[21,0.0001],[21.5,0.000063],[22,0.000024],
  [22.5,0.00013],[23,0.000039],[23.5,0.000085],[24,0.00011],[25,0.000063],[26,0.00014],[26.5,0.000039],[27,0.000024],[27.5,0.000085],[28,0.00016],[29,0.000063],[30,0.00011],[31,0.000085],[32,0.000039],[33,0.000024],[34,0.000085],[35,0.00012],[36,0.000063],[37,0.000039],[38,0.000085],
  [39,0.000024],[40,0.00014],[41,0.000063],[42,0.000024],[43,0.000085],[44,0.00011],[45,0.000063],[46,0.00011],[47,0.000039],[50,0.000085],[51,0.000039],[52,0.000024],[52.5,0.000085],[53,0.000024],[55,0.000039],[56,0.000063],[57,0.000024],[59,0.000063],[60,0.000039],[62,0.000024],
  [64,0.000024],[65,0.000024],[66,0.000063],[67,0.000024],[68,0.000024],[69,0.000063],[73,0.000024],[74,0.000039],[78,0.000024],[80,0.000039],[86,0.000024],
  [3.2,0.0012],[4.2,0.0006],[5.2,0.00075],[6.2,0.0006],[7.2,0.00032],[8.2,0.00045],[9.2,0.0003],[10.2,0.00024],[11.2,0.00033],[13.2,0.00018],[16.2,0.00028],[18.2,0.00009],[20.2,0.00012],[25.5,0.00016],[29.5,0.00011],[33.5,0.00012],[38.5,0.00011],[43.5,0.00014],[45.5,0.000085],[48,0.000085],
  [49,0.000063],[54,0.000085],[58,0.000039]
];

// ---- panel e (ms) ----
const eTMB = [
  [-0.065,0.00077],[-0.065,0.00053],[-0.072,0.00025],[-0.065,0.00025],[-0.058,0.00025],[-0.05,0.00025],[-0.042,0.00025],[-0.035,0.00025],[-0.028,0.00025],[-0.04,0.00064],[-0.03,0.00064],[-0.05,0.000127],[-0.035,0.000127],[-0.028,0.000127],
  [-0.02,0.0005],[-0.018,0.0076],[-0.015,0.021],[-0.01,0.09],[-0.005,0.42],[0,1.0],
  [0.003,0.95],[0.006,0.8],[0.009,0.62],[0.012,0.5],[0.015,0.4],[0.018,0.33],[0.021,0.28],[0.025,0.24],[0.03,0.2],[0.035,0.18],[0.04,0.16],[0.045,0.15],[0.05,0.14],[0.055,0.13],[0.06,0.125],[0.065,0.118],[0.07,0.113],[0.08,0.105],[0.09,0.095],[0.1,0.086],
  [0.11,0.08],[0.12,0.076],[0.13,0.072],[0.14,0.068],[0.15,0.065],[0.16,0.061],[0.17,0.058],[0.18,0.056],[0.19,0.054],[0.2,0.053],[0.21,0.05],[0.22,0.048],[0.23,0.046],[0.24,0.045],[0.25,0.043],[0.26,0.041],[0.27,0.04],[0.28,0.039],[0.29,0.038],[0.3,0.037],
  [0.31,0.035],[0.32,0.034],[0.33,0.033],[0.34,0.033],[0.35,0.032],[0.36,0.031],[0.37,0.03],[0.38,0.029],[0.39,0.029],[0.4,0.028],[0.41,0.027],[0.42,0.027],[0.43,0.026],[0.44,0.026],[0.45,0.026],[0.46,0.025],[0.47,0.024],[0.48,0.024],[0.49,0.023],[0.5,0.023],
  [0.51,0.022],[0.52,0.022],[0.53,0.021],[0.54,0.0214],[0.55,0.021],[0.56,0.02],[0.57,0.0205],[0.58,0.0195],[0.59,0.019],[0.6,0.0195],[0.61,0.0185],[0.62,0.018],[0.63,0.0182],[0.64,0.0175],[0.65,0.0172],[0.66,0.017],[0.67,0.0168],[0.68,0.0162],[0.69,0.016],[0.7,0.016],
  [0.71,0.0155],[0.72,0.0152],[0.73,0.015],[0.74,0.0148],[0.75,0.0148],[0.76,0.0144],[0.77,0.014],[0.78,0.0142],[0.79,0.0136],[0.8,0.0138],[0.81,0.0133],[0.82,0.013],[0.83,0.0135],[0.84,0.0128],[0.85,0.0129],[0.86,0.0124],[0.87,0.0127],[0.88,0.012],[0.89,0.0126],[0.9,0.0123],
  [0.91,0.0118],[0.92,0.0125],[0.925,0.0071],
  [0.105,0.092],[0.155,0.07],[0.205,0.05],[0.255,0.046],[0.305,0.034],[0.355,0.034],[0.405,0.026],[0.455,0.024],[0.505,0.021],[0.555,0.022],[0.605,0.018],[0.655,0.018],[0.705,0.015],[0.755,0.0138],[0.805,0.0145],[0.855,0.012],[0.905,0.0115],[0.895,0.013]
];
const eDMDTB = [
  [-0.07,0.000028],[-0.065,0.000028],[-0.06,0.000028],[-0.055,0.000028],[-0.05,0.000028],[-0.045,0.000028],[-0.04,0.000028],[-0.035,0.000028],[-0.065,0.000084],[-0.045,0.00035],[-0.04,0.00027],[-0.035,0.00012],[-0.03,0.000084],[-0.03,0.00017],[-0.025,0.00031],
  [-0.02,0.0038],[-0.015,0.03],[-0.01,0.13],[-0.005,0.64],[0,1.0],[0.005,0.6],[0.01,0.08],[0.015,0.025],[0.02,0.016],
  [0.025,0.012],[0.03,0.01],[0.035,0.0095],[0.04,0.009],[0.045,0.0088],[0.05,0.0082],[0.055,0.0078],[0.06,0.0075],[0.065,0.007],[0.07,0.0068],[0.075,0.0064],[0.08,0.0061],[0.09,0.0058],[0.1,0.0053],[0.11,0.0056],[0.12,0.0042],[0.13,0.0051],[0.14,0.0046],[0.15,0.0047],[0.16,0.0052],
  [0.17,0.0043],[0.18,0.0045],[0.19,0.0038],[0.2,0.0041],[0.21,0.0046],[0.22,0.0036],[0.23,0.0039],[0.24,0.0033],[0.25,0.0034],[0.26,0.0028],[0.27,0.0036],[0.28,0.0031],[0.29,0.0033],[0.3,0.0031],[0.31,0.0027],[0.32,0.0034],[0.33,0.003],[0.34,0.0026],[0.35,0.0032],[0.36,0.0028],
  [0.37,0.0024],[0.38,0.0031],[0.39,0.0027],[0.4,0.0027],[0.41,0.0022],[0.42,0.0029],[0.43,0.0025],[0.44,0.0021],[0.45,0.0028],[0.46,0.0023],[0.47,0.0026],[0.48,0.0017],[0.49,0.0024],[0.5,0.0022],[0.51,0.0027],[0.52,0.0019],[0.53,0.0023],[0.54,0.0021],[0.55,0.0025],[0.56,0.0018],
  [0.57,0.0022],[0.58,0.0029],[0.59,0.002],[0.6,0.0019],[0.61,0.0011],[0.62,0.00077],[0.63,0.0016],[0.64,0.0023],[0.65,0.0018],[0.66,0.0021],[0.67,0.0015],[0.68,0.0019],[0.69,0.0017],[0.7,0.0018],[0.71,0.00077],[0.72,0.0016],[0.73,0.0021],[0.74,0.0014],[0.75,0.0019],[0.76,0.0015],
  [0.77,0.0026],[0.78,0.0017],[0.79,0.0013],[0.8,0.00165],[0.81,0.0019],[0.82,0.0014],[0.83,0.0011],[0.84,0.0016],[0.85,0.00071],[0.86,0.0018],[0.87,0.0013],[0.88,0.00071],[0.89,0.0015],[0.9,0.00145],[0.91,0.0012],[0.92,0.0013],[0.925,0.00025],
  [0.105,0.0062],[0.135,0.0057],[0.165,0.0047],[0.195,0.0044],[0.225,0.0042],[0.255,0.0038],[0.285,0.0026],[0.315,0.0031],[0.345,0.0035],[0.375,0.0027],[0.405,0.0031],[0.435,0.0028],[0.465,0.002],[0.495,0.0027],[0.525,0.0024],[0.555,0.0021],[0.585,0.0017],[0.615,0.0024],[0.645,0.0014],[0.675,0.0022],
  [0.705,0.0015],[0.735,0.0018],[0.765,0.0021],[0.795,0.0016],[0.825,0.0018],[0.855,0.0013],[0.885,0.0019],[0.915,0.0016]
];
const eTTB = [
  [-0.068,0.000036],[-0.06,0.000036],[-0.055,0.000036],[-0.045,0.000036],[-0.05,0.000022],[-0.045,0.000052],[-0.04,0.000073],[-0.035,0.0001],[-0.03,0.00016],[-0.025,0.00027],[-0.02,0.0005],[-0.018,0.0019],[-0.015,0.0081],[-0.013,0.023],[-0.01,0.099],[-0.005,0.3],[0,1.0],
  [0.005,0.69],[0.01,0.16],[0.015,0.04],[0.02,0.015],[0.025,0.0022],
  [0.03,0.00155],[0.035,0.0013],[0.04,0.0011],[0.045,0.00095],[0.05,0.00077],[0.055,0.00068],[0.06,0.00059],[0.065,0.0005],[0.07,0.00055],[0.075,0.00042],[0.08,0.00047],[0.085,0.00038],[0.09,0.00045],[0.095,0.00035],[0.1,0.00041],[0.105,0.00028],[0.11,0.00052],[0.115,0.00033],[0.12,0.0004],[0.125,0.00025],
  [0.13,0.00062],[0.135,0.00031],[0.14,0.00036],[0.145,0.00022],[0.15,0.00033],[0.155,0.00055],[0.16,0.00028],[0.165,0.00041],[0.17,0.0006],[0.175,0.00024],[0.18,0.00035],[0.185,0.000052],[0.19,0.00029],[0.195,0.0001],[0.2,0.00027],[0.21,0.00034],[0.22,0.00018],[0.23,0.00026],[0.24,0.00014],[0.25,0.00021],
  [0.26,0.00029],[0.27,0.00012],[0.28,0.00018],[0.29,0.000073],[0.3,0.00023],[0.31,0.00014],[0.32,0.000022],[0.33,0.00018],[0.34,0.0001],[0.35,0.000022],[0.36,0.00016],[0.37,0.000073],[0.38,0.00021],[0.39,0.000052],[0.4,0.00014],[0.41,0.000022],[0.42,0.0001],[0.43,0.00034],[0.44,0.00012],[0.45,0.000073],
  [0.46,0.00018],[0.47,0.000036],[0.48,0.00029],[0.49,0.0001],[0.5,0.000022],[0.51,0.00014],[0.52,0.000073],[0.53,0.00018],[0.54,0.00012],[0.55,0.000022],[0.56,0.00027],[0.57,0.0001],[0.58,0.000052],[0.59,0.00014],[0.6,0.000073],[0.61,0.00018],[0.62,0.000022],[0.63,0.0001],[0.64,0.00014],[0.65,0.000036],
  [0.66,0.00021],[0.67,0.000073],[0.68,0.000022],[0.69,0.00012],[0.7,0.000052],[0.71,0.00016],[0.72,0.000036],[0.73,0.0001],[0.74,0.000022],[0.75,0.000073],[0.76,0.00012],[0.77,0.000036],[0.78,0.00016],[0.79,0.000052],[0.8,0.0001],[0.81,0.00014],[0.82,0.000036],[0.83,0.000073],[0.84,0.0001],[0.85,0.000022],
  [0.86,0.00012],[0.87,0.000052],[0.88,0.0001],[0.89,0.000036],[0.9,0.0001],[0.9,0.000052],
  [0.115,0.00048],[0.145,0.00042],[0.175,0.00048],[0.205,0.0002],[0.235,0.00031],[0.265,0.00016],[0.295,0.00012],[0.325,0.00028],[0.355,0.00012],[0.385,0.00014],[0.415,0.00016],[0.445,0.00022],[0.475,0.0001],[0.505,0.00018],[0.535,0.00024],[0.565,0.00014],[0.595,0.0001],[0.625,0.00016],[0.655,0.00012],[0.685,0.0001],
  [0.715,0.000073],[0.745,0.00014],[0.775,0.0001],[0.805,0.000073],[0.835,0.00014],[0.865,0.000073],[0.895,0.000073],[0.36,0.000052],[0.44,0.000052],[0.52,0.000052],[0.6,0.000036],[0.64,0.000052],[0.7,0.000036],[0.8,0.000052],[0.86,0.000036]
];

// ---- panel f (ms) ----
const fTMB = [
  [-0.65,0.00044],[-0.5,0.00083],[-0.45,0.0013],[-0.35,0.0013],[-0.35,0.00053],[-0.3,0.00024],[-0.25,0.0018],[-0.2,0.0052],[-0.18,0.0134],[-0.15,0.031],[-0.1,0.09],[-0.08,0.16],[-0.05,0.29],[-0.02,0.51],[0,1.0],[0.02,0.8],
  [0.05,0.64],[0.1,0.43],[0.15,0.35],[0.2,0.28],[0.25,0.24],[0.3,0.2],[0.35,0.17],[0.4,0.14],[0.45,0.125],[0.5,0.11],[0.6,0.095],[0.7,0.08],[0.8,0.072],[0.9,0.063],[1.0,0.057],[1.1,0.053],[1.2,0.049],[1.3,0.046],[1.4,0.043],[1.5,0.042],
  [1.6,0.041],[1.7,0.038],[1.8,0.037],[1.9,0.036],[2.0,0.035],[2.1,0.033],[2.2,0.032],[2.3,0.031],[2.4,0.03],[2.5,0.029],[2.6,0.028],[2.7,0.027],[2.8,0.026],[2.9,0.025],[3.0,0.024],[3.1,0.023],[3.2,0.022],[3.3,0.022],[3.4,0.021],[3.5,0.02],
  [3.6,0.0195],[3.7,0.019],[3.8,0.0185],[3.9,0.018],[4.0,0.018],[4.1,0.017],[4.2,0.0165],[4.3,0.016],[4.4,0.0155],[4.5,0.015],[4.6,0.0147],[4.7,0.0143],[4.8,0.014],[4.9,0.0137],[5.0,0.0134],[5.1,0.013],[5.2,0.0127],[5.3,0.0125],[5.4,0.0122],[5.5,0.012],
  [5.6,0.0116],[5.7,0.0113],[5.8,0.011],[5.9,0.0065],[6.0,0.0107],[6.1,0.0104],[6.2,0.0101],[6.3,0.0099],[6.4,0.0097],[6.5,0.0096],[6.6,0.0093],[6.7,0.009],[6.8,0.0088],[6.9,0.0087],[7.0,0.0086],[7.05,0.0042],[7.1,0.0049],[7.2,0.0083],[7.3,0.0081],[7.4,0.0079],
  [7.5,0.0077],[7.6,0.0076],[7.7,0.0074],[7.8,0.0075],[7.9,0.0072],[8.0,0.0073],[8.1,0.0071],[8.2,0.0069],[8.3,0.0048],[8.4,0.007],[8.5,0.0069],[8.6,0.0066],[8.7,0.0062],[8.8,0.0064],[8.9,0.006],[9.0,0.0058],[9.05,0.0035],[9.1,0.0055],[9.2,0.0047],[9.25,0.006],
  [9.3,0.0014],
  [1.05,0.062],[1.45,0.047],[1.85,0.04],[2.25,0.035],[2.65,0.03],[3.05,0.026],[3.45,0.023],[3.85,0.02],[4.25,0.018],[4.65,0.016],[5.05,0.0145],[5.45,0.0128],[5.85,0.012],[6.25,0.0108],[6.65,0.0101],[7.05,0.0094],[7.45,0.0085],[7.85,0.0068],[8.25,0.0077],[8.65,0.0072],
  [9.05,0.0065],[9.15,0.0051],[8.95,0.0055],[8.45,0.0063],[7.65,0.0068],[6.85,0.0081],[6.05,0.0097]
];
const fDMDTB = [
  [-0.6,0.0026],[-0.6,0.0033],[-0.55,0.001],[-0.5,0.00073],[-0.5,0.00035],[-0.45,0.00035],[-0.4,0.00073],[-0.35,0.001],[-0.3,0.0014],[-0.25,0.0019],[-0.2,0.0065],[-0.17,0.03],[-0.12,0.11],[-0.08,0.28],[-0.03,0.64],[0,1.0],[0.03,0.8],[0.08,0.33],[0.12,0.11],[0.16,0.057],
  [0.2,0.041],[0.25,0.033],[0.3,0.03],[0.35,0.028],[0.4,0.026],[0.45,0.025],[0.5,0.024],[0.55,0.022],[0.6,0.023],[0.65,0.019],[0.7,0.021],[0.75,0.018],[0.8,0.02],[0.85,0.016],[0.9,0.017],[0.95,0.015],[1.0,0.0085],[1.05,0.016],[1.1,0.013],[1.2,0.014],
  [1.3,0.012],[1.4,0.0125],[1.5,0.0127],[1.6,0.018],[1.7,0.011],[1.8,0.0098],[1.9,0.013],[2.0,0.011],[2.1,0.0082],[2.2,0.0125],[2.3,0.0095],[2.4,0.0072],[2.5,0.0091],[2.6,0.0105],[2.7,0.0065],[2.8,0.0027],[2.9,0.0081],[3.0,0.0058],[3.1,0.0088],[3.2,0.0069],
  [3.3,0.0075],[3.4,0.0048],[3.5,0.0069],[3.6,0.0085],[3.7,0.0028],[3.8,0.0062],[3.9,0.0052],[4.0,0.0075],[4.1,0.0045],[4.2,0.0033],[4.3,0.0058],[4.4,0.0068],[4.5,0.0055],[4.6,0.0038],[4.7,0.0062],[4.8,0.0023],[4.9,0.0049],[5.0,0.0042],[5.1,0.0058],[5.2,0.0079],
  [5.3,0.0029],[5.4,0.0048],[5.5,0.00037],[5.6,0.0039],[5.7,0.0025],[5.8,0.0055],[5.9,0.0033],[6.0,0.0021],[6.1,0.0045],[6.2,0.00017],[6.3,0.0033],[6.4,0.0026],[6.5,0.0019],[6.6,0.00024],[6.7,0.0038],[6.8,0.0028],[6.9,0.0015],[7.0,0.0034],[7.1,0.00015],[7.2,0.0024],
  [7.3,0.0052],[7.4,0.00018],[7.5,0.0025],[7.6,0.00037],[7.7,0.00018],[7.8,0.0009],[7.9,0.0021],[8.0,0.0023],[8.1,0.0031],[8.2,0.00083],[8.3,0.0017],[8.4,0.0024],[8.5,0.0021],[8.6,0.00017],[8.7,0.0017],[8.8,0.0045],[8.9,0.0021],[9.0,0.00037],[9.1,0.0025],[9.2,0.0029],
  [9.25,0.0024],[9.3,0.0011],
  [0.22,0.036],[0.32,0.025],[0.42,0.03],[0.52,0.021],[0.62,0.026],[0.72,0.019],[0.82,0.017],[0.92,0.014],[1.15,0.017],[1.35,0.0098],[1.55,0.0105],[1.75,0.0135],[1.95,0.0088],[2.15,0.0105],[2.35,0.012],[2.55,0.0075],[2.75,0.0088],[2.95,0.0062],[3.15,0.0055],[3.35,0.0092],
  [3.55,0.0058],[3.75,0.0068],[3.95,0.0042],[4.15,0.0066],[4.35,0.0039],[4.55,0.0075],[4.75,0.0045],[4.95,0.0064],[5.15,0.0036],[5.35,0.0052],[5.55,0.0041],[5.75,0.0031],[5.95,0.0048],[6.15,0.0028],[6.35,0.0042],[6.55,0.0031],[6.75,0.0021],[6.95,0.0025],[7.15,0.0031],[7.35,0.0019],
  [7.55,0.0038],[7.75,0.0028],[7.95,0.0012],[8.15,0.0019],[8.35,0.0028],[8.55,0.0024],[8.75,0.0013],[8.95,0.0018],[9.15,0.0023],[6.45,0.0009],[6.85,0.0011],[7.65,0.0009],[8.05,0.00055],[8.45,0.00048],[9.05,0.00037],[8.25,0.00065]
];
const fTTB = [
  [-0.65,0.00031],[-0.55,0.00064],[-0.5,0.00077],[-0.45,0.00037],[-0.4,0.00052],[-0.35,0.00019],[-0.3,0.00026],[-0.25,0.00061],[-0.2,0.0024],[-0.15,0.03],[-0.1,0.068],[-0.07,0.15],[-0.04,0.41],[0,1.0],[0.03,0.68],[0.07,0.43],[0.1,0.19],[0.13,0.0178],[0.15,0.012],
  [0.2,0.0039],[0.25,0.0035],[0.3,0.0031],[0.35,0.0028],[0.4,0.0027],[0.45,0.0025],[0.5,0.0024],[0.55,0.0021],[0.6,0.0023],[0.65,0.0018],[0.7,0.0021],[0.75,0.0016],[0.8,0.0019],[0.85,0.0024],[0.9,0.0014],[0.95,0.0018],[1.0,0.0019],[1.05,0.0008],[1.1,0.0015],[1.2,0.0022],
  [1.3,0.0013],[1.4,0.0017],[1.5,0.0016],[1.6,0.001],[1.7,0.0021],[1.8,0.0012],[1.9,0.0015],[2.0,0.00136],[2.1,0.0009],[2.2,0.00035],[2.3,0.0019],[2.4,0.0011],[2.5,0.00023],[2.6,0.0013],[2.7,0.00085],[2.8,0.0023],[2.9,0.0009],[3.0,0.00097],[3.1,0.0012],[3.2,0.00065],
  [3.3,0.00023],[3.4,0.0011],[3.5,0.00075],[3.6,0.0015],[3.7,0.00055],[3.8,0.0009],[3.9,0.0019],[4.0,0.00035],[4.1,0.00083],[4.2,0.00062],[4.3,0.0011],[4.4,0.00045],[4.5,0.0008],[4.6,0.00058],[4.7,0.0012],[4.8,0.00019],[4.9,0.0009],[5.0,0.0013],[5.1,0.00074],[5.2,0.00042],
  [5.3,0.001],[5.4,0.00055],[5.5,0.00085],[5.6,0.00032],[5.7,0.00019],[5.8,0.00066],[5.9,0.0011],[6.0,0.0005],[6.1,0.00078],[6.2,0.00035],[6.3,0.0012],[6.4,0.00062],[6.5,0.00014],[6.6,0.00045],[6.7,0.00085],[6.8,0.00028],[6.9,0.00066],[7.0,0.0011],[7.1,0.00016],[7.2,0.00052],
  [7.3,0.0008],[7.4,0.00013],[7.5,0.00035],[7.6,0.00062],[7.7,0.00045],[7.8,0.00095],[7.9,0.00038],[8.0,0.00059],[8.1,0.00026],[8.2,0.00014],[8.3,0.00075],[8.4,0.00048],[8.5,0.0001],[8.6,0.0001],[8.7,0.00093],[8.8,0.00055],[8.9,0.00032],[9.0,0.0007],[9.1,0.00045],[9.2,0.0019],
  [9.25,0.00055],[9.3,0.00023],
  [0.22,0.0033],[0.32,0.0026],[0.42,0.0022],[0.52,0.0028],[0.62,0.0019],[0.72,0.0025],[0.82,0.0015],[0.92,0.0021],[1.15,0.0012],[1.35,0.0019],[1.55,0.0012],[1.75,0.0014],[1.95,0.0011],[2.15,0.0016],[2.35,0.0013],[2.55,0.0009],[2.75,0.0012],[2.95,0.0007],[3.15,0.0009],[3.35,0.0013],
  [3.55,0.0006],[3.75,0.001],[3.95,0.0007],[4.15,0.0011],[4.35,0.0008],[4.55,0.00045],[4.75,0.00075],[4.95,0.00055],[5.15,0.00095],[5.35,0.00068],[5.55,0.00048],[5.75,0.0008],[5.95,0.00058],[6.15,0.00095],[6.35,0.00042],[6.55,0.00072],[6.75,0.00055],[6.95,0.00038],[7.15,0.00068],[7.35,0.00045],
  [7.55,0.0008],[7.75,0.00028],[7.95,0.00066],[8.15,0.0004],[8.35,0.00052],[8.55,0.00035],[8.75,0.00042],[8.95,0.00058],[9.15,0.00082]
];

// tick labels
const aXTicks = [-10, 0, 10, 20, 30, 40, 50];
const bXTicks = [-0.2, 0.0, 0.2, 0.4, 0.6, 0.8, 1.0];
const cXTicks = [-2, -1, 0, 1, 2, 3, 4, 5, 6, 7, 8, 9, 10];
const dXTicks = [0, 20, 40, 60, 80, 100];
const eXTicks = [0.0, 0.2, 0.4, 0.6, 0.8, 1.0];
const fXTicks = [-1, 0, 1, 2, 3, 4, 5, 6, 7, 8, 9, 10];
const aYExps = [-3, -2, -1, 0];
const bYExps = [-5, -4, -3, -2, -1, 0];
const fYExps = [-4, -3, -2, -1, 0];

const W = 355.5;
const panels = [
  { key: 'a', left: 69, top: 34.3, h: 287.4, xDomain: [-10, 50], xTicks: aXTicks, minorStep: 5, dec: 0, yExps: aYExps, xTitle: 'Time (ns)', series: [aTMB, aDMDTB, aTTB], legend: [181, 248], letter: [7.5, 32], yTitleDx: -45.7 },
  { key: 'b', left: 506.7, top: 34.3, h: 287.4, xDomain: [-0.2, 1.0], xTicks: bXTicks, minorStep: 0.1, dec: 1, yExps: bYExps, xTitle: 'Time (\u03bcs)', series: [bTMB, bDMDTB, bTTB], legend: [641.7, 41.7], letter: [445, 32], yTitleDx: -49.2 },
  { key: 'c', left: 944.3, top: 34.3, h: 287.4, xDomain: [-2, 10], xTicks: cXTicks, minorStep: 0.5, dec: 0, yExps: bYExps, xTitle: 'Time (\u03bcs)', series: [cTMB, cDMDTB, cTTB], legend: [1066, 50.7], letter: [883, 32], yTitleDx: -50.3 },
  { key: 'd', left: 69, top: 409.3, h: 286.7, xDomain: [-10, 100], xTicks: dXTicks, minorStep: 10, dec: 0, yExps: bYExps, xTitle: 'Time (\u03bcs)', series: [dTMB, dDMDTB, dTTB], legend: [209.3, 411.7], letter: [7.5, 406], yTitleDx: -45.7 },
  { key: 'e', left: 506.7, top: 409.3, h: 286.7, xDomain: [-0.1, 1.0], xTicks: eXTicks, minorStep: 0.1, dec: 1, yExps: bYExps, xTitle: 'Time (ms)', series: [eTMB, eDMDTB, eTTB], legend: [643.3, 416.7], letter: [446, 406], yTitleDx: -49.2 },
  { key: 'f', left: 944.3, top: 409.3, h: 286.7, xDomain: [-1, 10], xTicks: fXTicks, minorStep: 0.1, dec: 0, yExps: fYExps, xTitle: 'Time (ms)', series: [fTMB, fDMDTB, fTTB], legend: [1072.7, 423.3], letter: [881, 406], yTitleDx: -43.6 }
];

const svg = d3.select('#chart')
  .append('svg')
  .attr('width', 1312)
  .attr('height', 747);

const symbols = [
  d3.symbol().type(d3.symbolSquare).size(30),
  d3.symbol().type(d3.symbolCircle).size(27),
  d3.symbol().type(d3.symbolTriangle).size(27)
];
const legendSymbols = [
  d3.symbol().type(d3.symbolSquare).size(15),
  d3.symbol().type(d3.symbolCircle).size(15),
  d3.symbol().type(d3.symbolTriangle).size(15)
];

function drawPanel(p) {
  const g = svg.append('g');
  const x = d3.scaleLinear().domain(p.xDomain).range([p.left, p.left + W]);
  const yMin = Math.pow(10, p.yExps[0]);
  const y = d3.scaleLog().domain([yMin, 1.5]).range([p.top + p.h, p.top]);
  const bottom = p.top + p.h, right = p.left + W;

  // minor positions
  const xMinor = d3.range(Math.ceil(p.xDomain[0] / p.minorStep - 1e-6), Math.floor(p.xDomain[1] / p.minorStep + 1e-6) + 1)
    .map(i => +(i * p.minorStep).toFixed(4))
    .filter(v => !p.xTicks.some(t => Math.abs(t - v) < 1e-6));
  const yMinor = [];
  p.yExps.forEach(e => {
    for (let m = 2; m <= 9; m++) {
      const v = m * Math.pow(10, e);
      if (v <= 1.5) yMinor.push(v);
    }
  });
  const xMajor = p.xTicks;
  const yMajor = p.yExps.map(e => Math.pow(10, e));

  // grid
  const grid = g.append('g');
  grid.selectAll('.gxm').data(xMinor).enter().append('line')
    .attr('x1', d => x(d)).attr('x2', d => x(d)).attr('y1', p.top).attr('y2', bottom)
    .attr('stroke', '#b8b8b8').attr('stroke-width', 0.8).attr('stroke-dasharray', '1,1.5');
  grid.selectAll('.gym').data(yMinor).enter().append('line')
    .attr('x1', p.left).attr('x2', right).attr('y1', d => y(d)).attr('y2', d => y(d))
    .attr('stroke', '#b8b8b8').attr('stroke-width', 0.8).attr('stroke-dasharray', '1,1.5');
  grid.selectAll('.gx').data(xMajor).enter().append('line')
    .attr('x1', d => x(d)).attr('x2', d => x(d)).attr('y1', p.top).attr('y2', bottom)
    .attr('stroke', '#9a9a9a').attr('stroke-width', 1);
  grid.selectAll('.gy').data(yMajor).enter().append('line')
    .attr('x1', p.left).attr('x2', right).attr('y1', d => y(d)).attr('y2', d => y(d))
    .attr('stroke', '#9a9a9a').attr('stroke-width', 1);

  // points
  p.series.forEach((data, i) => {
    g.append('g').selectAll('path')
      .data(data)
      .enter()
      .append('path')
      .attr('d', symbols[i])
      .attr('transform', d => `translate(${x(d[0])},${y(d[1])})`)
      .attr('fill', seriesColors[i]);
  });

  // frame and ticks
  const tickColor = '#333';
  const axes = g.append('g');
  const styleAxis = sel => {
    sel.select('.domain').remove();
    sel.selectAll('line').attr('stroke', tickColor).attr('stroke-width', 1.2);
  };
  axes.append('g').attr('transform', `translate(0,${bottom})`)
    .call(d3.axisBottom(x).tickValues(xMajor).tickSize(5).tickFormat('')).call(styleAxis);
  axes.append('g').attr('transform', `translate(0,${bottom})`)
    .call(d3.axisBottom(x).tickValues(xMinor).tickSize(3).tickFormat('')).call(styleAxis);
  axes.append('g').attr('transform', `translate(0,${p.top})`)
    .call(d3.axisTop(x).tickValues(xMajor).tickSize(-5).tickFormat('')).call(styleAxis);
  axes.append('g').attr('transform', `translate(0,${p.top})`)
    .call(d3.axisTop(x).tickValues(xMinor).tickSize(-3).tickFormat('')).call(styleAxis);
  axes.append('g').attr('transform', `translate(${p.left},0)`)
    .call(d3.axisLeft(y).tickValues(yMajor).tickSize(5.5).tickFormat('')).call(styleAxis);
  axes.append('g').attr('transform', `translate(${p.left},0)`)
    .call(d3.axisLeft(y).tickValues(yMinor).tickSize(3).tickFormat('')).call(styleAxis);
  axes.append('g').attr('transform', `translate(${right},0)`)
    .call(d3.axisRight(y).tickValues(yMajor).tickSize(-5).tickFormat('')).call(styleAxis);
  axes.append('g').attr('transform', `translate(${right},0)`)
    .call(d3.axisRight(y).tickValues(yMinor).tickSize(-3).tickFormat('')).call(styleAxis);

  g.append('rect')
    .attr('x', p.left).attr('y', p.top).attr('width', W).attr('height', p.h)
    .attr('fill', 'none').attr('stroke', tickColor).attr('stroke-width', 1.4);

  // tick labels
  g.selectAll('.xl').data(xMajor).enter().append('text')
    .attr('x', d => x(d)).attr('y', bottom + 21)
    .attr('text-anchor', 'middle').attr('font-size', 17)
    .text(d => d.toFixed(p.dec));
  p.yExps.forEach(e => {
    const t = g.append('text')
      .attr('x', p.left - 8)
      .attr('y', y(Math.pow(10, e)) + 6)
      .attr('text-anchor', 'end')
      .attr('font-size', 16);
    t.append('tspan').text('10');
    t.append('tspan').attr('dy', -7).attr('font-size', 10.5).text(e);
  });

  // titles
  g.append('text')
    .attr('x', p.left + W / 2).attr('y', bottom + 43)
    .attr('text-anchor', 'middle').attr('font-size', 20)
    .text(p.xTitle);
  g.append('text')
    .attr('transform', `translate(${p.left + p.yTitleDx},${p.top + p.h / 2}) rotate(-90)`)
    .attr('text-anchor', 'middle').attr('dominant-baseline', 'central').attr('font-size', 20)
    .text('Normalized Intensity (a.u.)');
  g.append('text')
    .attr('x', p.letter[0]).attr('y', p.letter[1])
    .attr('font-size', 28)
    .text(p.key);

  // legend
  const lg = g.append('g').attr('transform', `translate(${p.legend[0]},${p.legend[1]})`);
  lg.append('rect').attr('width', 210).attr('height', 68)
    .attr('fill', '#fff').attr('stroke', tickColor).attr('stroke-width', 1.2);
  seriesNames.forEach((name, i) => {
    const cy = 12 + i * 22.3;
    lg.append('path').attr('d', legendSymbols[i])
      .attr('transform', `translate(19,${cy})`).attr('fill', seriesColors[i]);
    lg.append('text').attr('x', 40).attr('y', cy + 6)
      .attr('font-size', 17.5).text(name);
  });
}

panels.forEach(drawPanel);
</script>
</body>
</html>
